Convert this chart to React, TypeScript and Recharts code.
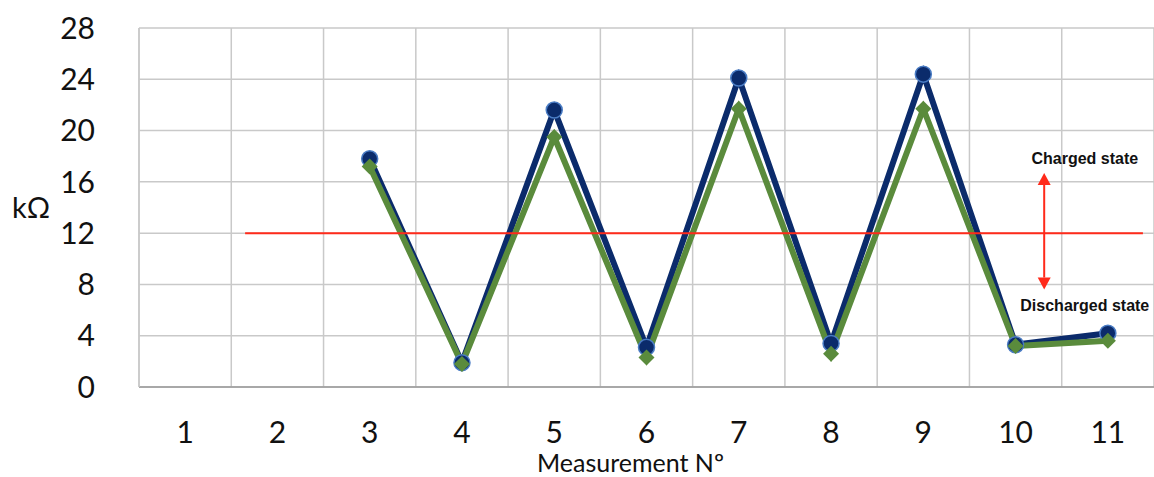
import {
  LineChart,
  Line,
  XAxis,
  YAxis,
  CartesianGrid,
  ReferenceLine,
  ReferenceDot,
} from 'recharts';

const measurement = [1, 2, 3, 4, 5, 6, 7, 8, 9, 10, 11];
const sensorA = [null, null, 17.8, 1.9, 21.6, 3.1, 24.1, 3.4, 24.4, 3.3, 4.2];
const sensorB = [null, null, 17.2, 1.8, 19.5, 2.3, 21.7, 2.6, 21.7, 3.2, 3.6];
const yTicks = [0, 4, 8, 12, 16, 20, 24, 28];

const threshold = 12;
const thresholdFrom = 1.65;
const thresholdTo = 11.38;
const arrowX = 10.31;
const arrowTop = 16.7;
const arrowBottom = 7.6;

const NAVY = '#0b2b6b';
const GREEN = '#5a8b3c';
const RED = '#ff2a1a';
const GRID = '#c9c9c9';
const FONT = 'Lato, "Open Sans", sans-serif';

const data = measurement.map((n, i) => ({ n, a: sensorA[i], b: sensorB[i] }));
const bandEdges = [...measurement.map((n) => n - 0.5), measurement[measurement.length - 1] + 0.5];
const domain: [number, number] = [bandEdges[0], bandEdges[bandEdges.length - 1]];

// vertical grid lines sit between the measurements, not on them
function bandGrid({ xAxis, offset }: any) {
  if (xAxis && typeof xAxis.scale === 'function') {
    return bandEdges.map((v) => xAxis.scale(v));
  }
  return bandEdges.map(
    (v) => offset.left + ((v - domain[0]) / (domain[1] - domain[0])) * offset.width,
  );
}

function CircleDot(props: any) {
  const { cx, cy, index } = props;
  if (cx == null || cy == null) return <g key={`a-${index}`} />;
  return (
    <circle key={`a-${index}`} cx={cx} cy={cy} r={8} fill={NAVY} stroke="#4a7cc4" strokeWidth={1.5} />
  );
}

function DiamondDot(props: any) {
  const { cx, cy, index } = props;
  if (cx == null || cy == null) return <g key={`b-${index}`} />;
  const s = 8;
  return (
    <polygon
      key={`b-${index}`}
      points={`${cx},${cy - s} ${cx + s},${cy} ${cx},${cy + s} ${cx - s},${cy}`}
      fill={GREEN}
    />
  );
}

function DoubleArrow(props: any) {
  const { x1, y1, x2, y2 } = props;
  const h = 12;
  const w = 6.5;
  return (
    <g>
      <line x1={x1} y1={y1 + h} x2={x2} y2={y2 - h} stroke={RED} strokeWidth={2} />
      <polygon points={`${x1},${y1} ${x1 - w},${y1 + h} ${x1 + w},${y1 + h}`} fill={RED} />
      <polygon points={`${x2},${y2} ${x2 - w},${y2 - h} ${x2 + w},${y2 - h}`} fill={RED} />
    </g>
  );
}

const noteStyle = {
  fill: '#111',
  fontSize: 16,
  fontWeight: 700,
  fontFamily: '"Liberation Sans", Arial, sans-serif',
};

export default function App() {
  return (
    <div style={{ position: 'absolute', left: 0, top: 0, background: '#fff' }}>
      <LineChart
        width={1154}
        height={477}
        data={data}
        margin={{ top: 28, right: 0, bottom: 0, left: 0 }}
      >
        <CartesianGrid
          stroke={GRID}
          strokeWidth={1.5}
          xAxisId="main"
          verticalCoordinatesGenerator={bandGrid}
        />
        <XAxis
          xAxisId="main"
          dataKey="n"
          type="number"
          domain={domain}
          ticks={measurement}
          interval={0}
          allowDataOverflow
          height={90}
          tickSize={0}
          tickMargin={35}
          tickLine={false}
          axisLine={{ stroke: '#999', strokeWidth: 1.5 }}
          tick={{ fill: '#111', fontSize: 30, fontFamily: FONT }}
          label={{
            content: ({ viewBox }: any) => (
              <text
                x={viewBox.x + viewBox.width / 2 - 16}
                y={viewBox.y + viewBox.height - 5}
                textAnchor="middle"
                fill="#111"
                fontSize={25}
                fontFamily={FONT}
              >
                Measurement Nº
              </text>
            ),
          }}
        />
        <YAxis
          domain={[0, 28]}
          ticks={yTicks}
          interval={0}
          width={139}
          tickSize={0}
          tickMargin={44}
          tickLine={false}
          axisLine={{ stroke: GRID, strokeWidth: 1.5 }}
          tick={{ fill: '#111', fontSize: 30, fontFamily: FONT }}
          label={{
            value: 'kΩ',
            position: 'insideLeft',
            offset: 12,
            fill: '#111',
            fontSize: 29,
            fontFamily: FONT,
          }}
        />
        <Line
          xAxisId="main"
          dataKey="a"
          stroke={NAVY}
          strokeWidth={6}
          dot={CircleDot}
          activeDot={false}
          isAnimationActive={false}
        />
        <Line
          xAxisId="main"
          dataKey="b"
          stroke={GREEN}
          strokeWidth={6}
          dot={DiamondDot}
          activeDot={false}
          isAnimationActive={false}
        />
        <ReferenceLine
          xAxisId="main"
          segment={[
            { x: thresholdFrom, y: threshold },
            { x: thresholdTo, y: threshold },
          ]}
          stroke={RED}
          strokeWidth={2}
        />
        <ReferenceLine
          xAxisId="main"
          segment={[
            { x: arrowX, y: arrowTop },
            { x: arrowX, y: arrowBottom },
          ]}
          shape={DoubleArrow}
        />
        <ReferenceDot
          xAxisId="main"
          x={10.75}
          y={17.8}
          r={0}
          fill="none"
          stroke="none"
          label={{ value: 'Charged state', position: 'center', ...noteStyle }}
        />
        <ReferenceDot
          xAxisId="main"
          x={10.75}
          y={6.4}
          r={0}
          fill="none"
          stroke="none"
          label={{ value: 'Discharged state', position: 'center', ...noteStyle }}
        />
      </LineChart>
    </div>
  );
}
